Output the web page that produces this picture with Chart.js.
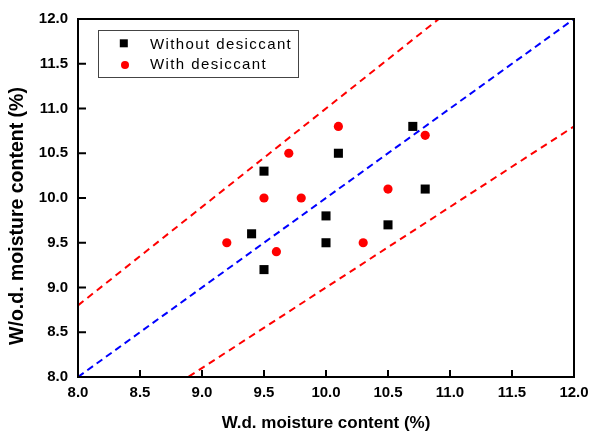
<!DOCTYPE html>
<html><head><meta charset="utf-8">
<script src="https://cdn.jsdelivr.net/npm/chart.js@4/dist/chart.umd.min.js"></script>
<style>html,body{margin:0;padding:0;background:#fff}#wrap{width:591px;height:431px}</style>
</head><body><div id="wrap"><canvas id="c" width="591" height="431"></canvas></div>
<script>
// Data
const withoutX = [9.4, 9.5, 9.5, 10.0, 10.0, 10.1, 10.5, 10.7, 10.8];
const withoutY = [9.6, 9.2, 10.3, 9.5, 9.8, 10.5, 9.7, 10.8, 10.1];
const withX = [9.2, 9.5, 9.6, 9.7, 9.8, 10.1, 10.3, 10.5, 10.8];
const withY = [9.5, 10.0, 9.4, 10.5, 10.0, 10.8, 9.5, 10.1, 10.7];
// Reference lines (1:1 and ±10%)
const refX = [8, 12];
const oneToOne = [8, 12];
const plus10 = [8.8, 13.2];
const minus10 = [7.2, 10.8];
// Axis ticks
const tickValues = [8.0, 8.5, 9.0, 9.5, 10.0, 10.5, 11.0, 11.5, 12.0];
const tickLabels = ['8.0', '8.5', '9.0', '9.5', '10.0', '10.5', '11.0', '11.5', '12.0'];
const seriesLabels = ['Without desiccant', 'With desiccant'];
const xTitle = 'W.d. moisture content (%)';
const yTitle = 'W/o.d. moisture content (%)';

const FONT = "'Liberation Sans', Arial, sans-serif";
Chart.defaults.font.family = FONT;

const pts = (xs, ys) => xs.map((x, i) => ({x: x, y: ys[i]}));
const tickCb = (v) => { const i = tickValues.findIndex(t => Math.abs(t - v) < 1e-9); return i >= 0 ? tickLabels[i] : ''; };

const framePlugin = {
  id: 'frame',
  afterDatasetsDraw(chart) {
    const {ctx, chartArea: a, scales} = chart;
    ctx.save();
    ctx.strokeStyle = '#000';
    ctx.lineWidth = 2;
    ctx.strokeRect(a.left, a.top, a.right - a.left, a.bottom - a.top);
    ctx.beginPath();
    tickValues.forEach(v => {
      const x = scales.x.getPixelForValue(v);
      ctx.moveTo(x, a.bottom); ctx.lineTo(x, a.bottom - 7);
      const y = scales.y.getPixelForValue(v);
      ctx.moveTo(a.left, y); ctx.lineTo(a.left + 8, y);
    });
    ctx.stroke();
    ctx.restore();
  },
  afterDraw(chart) {
    const {ctx, chartArea: a} = chart;
    ctx.save();
    // axis titles
    ctx.fillStyle = '#000';
    ctx.font = 'bold 17px ' + FONT;
    ctx.textAlign = 'center';
    ctx.textBaseline = 'alphabetic';
    ctx.fillText(xTitle, (a.left + a.right) / 2, 427.5);
    ctx.save();
    ctx.translate(23.3, 216);
    ctx.rotate(-Math.PI / 2);
    ctx.font = 'bold 19.5px ' + FONT;
    ctx.fillText(yTitle, 0, 0);
    ctx.restore();
    // legend
    ctx.strokeStyle = '#444';
    ctx.lineWidth = 1;
    ctx.strokeRect(98.5, 30.5, 200, 47);
    const ds = chart.data.datasets;
    ctx.fillStyle = ds[0].backgroundColor;
    ctx.fillRect(119.8, 39.3, 8, 8);
    ctx.fillStyle = ds[1].backgroundColor;
    ctx.beginPath(); ctx.arc(125, 65, 4, 0, Math.PI * 2); ctx.fill();
    ctx.fillStyle = '#000';
    ctx.textAlign = 'left';
    ctx.font = '15px ' + FONT;
    try { ctx.letterSpacing = '1.4px'; } catch (e) {}
    ctx.fillText(ds[0].label, 150, 49);
    ctx.fillText(ds[1].label, 150, 69.3);
    ctx.restore();
  }
};

new Chart(document.getElementById('c'), {
  type: 'scatter',
  data: {
    datasets: [
      {label: seriesLabels[0], data: pts(withoutX, withoutY), pointStyle: 'rect', pointRadius: 6.4, pointBorderWidth: 0, backgroundColor: '#000', borderColor: '#000'},
      {label: seriesLabels[1], data: pts(withX, withY), pointStyle: 'circle', pointRadius: 4.6, pointBorderWidth: 0, backgroundColor: '#ff0000', borderColor: '#ff0000'},
      {label: '1:1', data: pts(refX, oneToOne), showLine: true, pointRadius: 0, borderColor: '#0000ff', borderWidth: 2, borderDash: [7, 4.5], clip: 0},
      {label: '+10%', data: pts(refX, plus10), showLine: true, pointRadius: 0, borderColor: '#ff0000', borderWidth: 2, borderDash: [7, 5], clip: 0},
      {label: '-10%', data: pts(refX, minus10), showLine: true, pointRadius: 0, borderColor: '#ff0000', borderWidth: 2, borderDash: [7, 5], clip: 0}
    ]
  },
  options: {
    responsive: false,
    animation: false,
    events: [],
    devicePixelRatio: 1,
    layout: {padding: {top: 19, right: 17, left: 0, bottom: 0}},
    plugins: {legend: {display: false}, tooltip: {enabled: false}},
    scales: {
      x: {
        type: 'linear', min: 8, max: 12,
        grid: {display: false, drawTicks: false},
        border: {display: false},
        ticks: {stepSize: 0.5, callback: tickCb, color: '#000', font: {size: 15, weight: 'bold'}, padding: 7, maxRotation: 0, autoSkip: false},
        afterFit: s => { s.height = 54; s.paddingLeft = 0; s.paddingRight = 0; }
      },
      y: {
        type: 'linear', min: 8, max: 12,
        grid: {display: false, drawTicks: false},
        border: {display: false},
        ticks: {stepSize: 0.5, callback: tickCb, color: '#000', font: {size: 15, weight: 'bold'}, padding: 10, autoSkip: false},
        afterFit: s => { s.width = 78; s.paddingTop = 0; s.paddingBottom = 0; }
      }
    }
  },
  plugins: [framePlugin]
});
</script>
</body></html>
